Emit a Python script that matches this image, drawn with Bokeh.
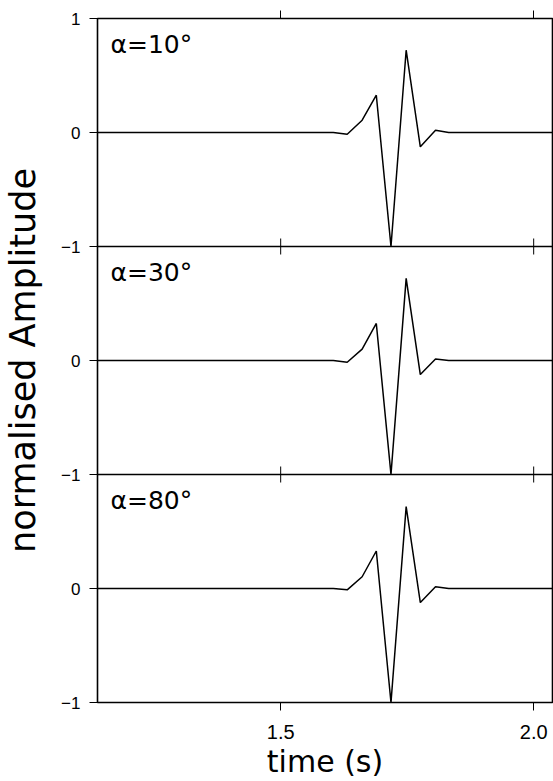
import math
from bokeh.plotting import figure
from bokeh.models import Range1d, LinearAxis, FixedTicker, Span, Label
from bokeh.embed import file_html
from bokeh.resources import INLINE

# ---- data ----
time = [1.10, 1.604, 1.6315, 1.661, 1.689, 1.718, 1.748, 1.776, 1.806, 1.832, 2.10]
amp_10 = [0.0, 0.0, -0.015, 0.108, 0.327, -1.0, 0.722, -0.126, 0.020, 0.0, 0.0]
amp_30 = [0.0, 0.0, -0.015, 0.100, 0.325, -1.0, 0.720, -0.123, 0.014, 0.0, 0.0]
amp_80 = [0.0, 0.0, -0.012, 0.103, 0.329, -1.0, 0.718, -0.123, 0.015, 0.0, 0.0]
panel_labels = ["α=10°", "α=30°", "α=80°"]
panel_series = [amp_10, amp_30, amp_80]
x_ticks = [1.5, 2.0]
x_tick_labels = ["1.5", "2.0"]
y_ticks_panel = [-1, 0, 1]
y_tick_labels_panel = ["\u22121", "0", "1"]
x_start, x_end = 1.138, 2.0372

n = len(panel_series)
tick_font = "Liberation Sans"
label_font = "DejaVu Sans"

p = figure(width=553, height=781, output_backend="svg", toolbar_location=None,
           x_range=Range1d(x_start, x_end), y_range=Range1d(-1, 2 * n - 1),
           x_axis_location=None, y_axis_location=None,
           min_border_left=97, min_border_top=18, min_border_right=1, min_border_bottom=0)
p.grid.visible = False
p.outline_line_color = "black"
p.outline_line_width = 1.6
p.background_fill_color = "white"
p.border_fill_color = "white"

# panel ranges and y tick labels on the stacked axis
y_tick_pos = []
overrides = {}
for i in range(n):
    off = 2 * (n - 1 - i)
    p.extra_y_ranges[f"panel{i}"] = Range1d(-1 - off, 2 * n - 1 - off)
    for t, lab in zip(y_ticks_panel, y_tick_labels_panel):
        pos = t + off
        if pos not in y_tick_pos:
            y_tick_pos.append(pos)
            overrides[pos] = lab
for i in range(n):
    off = 2 * (n - 1 - i)
    overrides[-1 + off] = y_tick_labels_panel[0]
overrides[2 * n - 1] = y_tick_labels_panel[2]

left = LinearAxis(ticker=FixedTicker(ticks=sorted(y_tick_pos)),
                  major_label_overrides=overrides,
                  axis_label="normalised Amplitude")
left.axis_line_color = None
left.major_tick_out = 8
left.major_tick_in = 0
left.minor_tick_line_color = None
left.major_tick_line_color = "black"
left.major_label_text_color = "black"
left.major_label_text_font = tick_font
left.major_label_text_font_size = "17px"
left.major_label_standoff = 9
left.axis_label_text_color = "black"
left.axis_label_text_font = label_font
left.axis_label_text_font_size = "35px"
left.axis_label_text_font_style = "normal"
left.axis_label_standoff = 15
p.add_layout(left, "left")

below = LinearAxis(ticker=FixedTicker(ticks=x_ticks),
                   major_label_overrides={k: v for k, v in zip(x_ticks, x_tick_labels)},
                   axis_label="time (s)")
below.axis_line_color = None
below.major_tick_out = 8
below.major_tick_in = 0
below.minor_tick_line_color = None
below.major_tick_line_color = "black"
below.major_label_text_color = "black"
below.major_label_text_font = tick_font
below.major_label_text_font_size = "20px"
below.major_label_standoff = 14
below.axis_label_text_color = "black"
below.axis_label_text_font = label_font
below.axis_label_text_font_size = "30px"
below.axis_label_text_font_style = "normal"
below.axis_label_standoff = 2
p.add_layout(below, "below")

above = LinearAxis(ticker=FixedTicker(ticks=x_ticks))
above.axis_line_color = None
above.major_tick_out = 8
above.major_tick_in = 0
above.minor_tick_line_color = None
above.major_tick_line_color = "black"
above.major_label_text_color = None
above.major_label_text_font_size = "1px"
above.major_label_standoff = 0
p.add_layout(above, "above")

# inner panel boundaries with crossing ticks
bx, by = [], []
for i in range(1, n):
    loc = 2 * i - 1
    p.add_layout(Span(location=loc, dimension="width", line_color="black", line_width=1.6))
    for xt in x_ticks:
        bx.append(xt)
        by.append(loc)
p.scatter(x=bx, y=by, marker="dash", size=16, angle=math.pi / 2,
          line_color="black", line_width=1)

# waveforms and labels
for i, (amp, lab) in enumerate(zip(panel_series, panel_labels)):
    p.line(time, amp, y_range_name=f"panel{i}", line_color="black", line_width=1.5)
    p.add_layout(Label(x=x_start, y=1, y_range_name=f"panel{i}", text=lab,
                       x_offset=13, y_offset=-11, text_baseline="top", text_align="left",
                       text_font=label_font, text_font_size="25px", text_color="black"))

open("out.html", "w").write(file_html(p, INLINE))
